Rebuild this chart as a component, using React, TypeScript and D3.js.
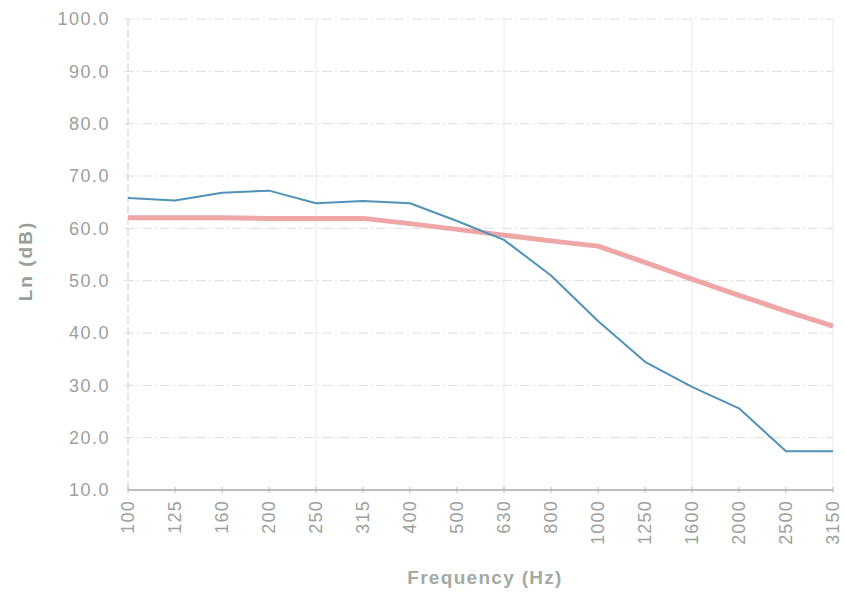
import React from "react";
import * as d3 from "d3";

const frequencies = ["100", "125", "160", "200", "250", "315", "400", "500", "630", "800", "1000", "1250", "1600", "2000", "2500", "3150"];
const measured = [65.8, 65.3, 66.8, 67.2, 64.8, 65.2, 64.8, 61.4, 57.8, 51.0, 42.3, 34.5, 29.7, 25.6, 17.4, 17.4];
const reference = [62.0, 62.0, 62.0, 61.9, 61.9, 61.9, 60.9, 59.8, 58.7, 57.6, 56.6, 53.5, 50.3, 47.2, 44.2, 41.3];
const yTicks = [10, 20, 30, 40, 50, 60, 70, 80, 90, 100];
const vGrid = ["250", "630", "1600", "3150"];

const width = 845;
const height = 593;
const margin = { top: 19, right: 12, bottom: 103, left: 128 };
const textColor = "#9ca19c";
const font = "'Liberation Sans', Arial, sans-serif";

export default function App() {
  const x = d3.scalePoint<string>()
    .domain(frequencies)
    .range([margin.left, width - margin.right]);
  const y = d3.scaleLinear()
    .domain([10, 100])
    .range([height - margin.bottom, margin.top]);

  const line = d3.line<number>()
    .x((_, i) => x(frequencies[i]) as number)
    .y(d => y(d));

  const x0 = margin.left;
  const x1 = width - margin.right;
  const yBottom = y(10);

  return (
    <svg width={width} height={height} style={{ position: "absolute", left: 0, top: 0, background: "#fff" }}>
      {/* horizontal grid */}
      {yTicks.filter(t => t > 10).map(t => (
        <line key={t} x1={x0 - 4} x2={x1} y1={y(t)} y2={y(t)}
          stroke="#dcdedc" strokeWidth={1} strokeDasharray="10 3 2 3" />
      ))}
      {/* vertical grid */}
      {vGrid.map(f => (
        <line key={f} x1={x(f)} x2={x(f)} y1={margin.top} y2={yBottom}
          stroke="#e8eae8" strokeWidth={1} />
      ))}
      {/* axes */}
      <line x1={x0} x2={x0} y1={margin.top} y2={yBottom} stroke="#c8cac8" strokeWidth={1} strokeDasharray="8 3" />
      <line x1={x0} x2={x1} y1={yBottom} y2={yBottom} stroke="#a4a8a4" strokeWidth={1.3} />
      {frequencies.map(f => (
        <line key={f} x1={x(f)} x2={x(f)} y1={yBottom - 3} y2={yBottom + 3} stroke="#b4b8b4" strokeWidth={1} />
      ))}
      {/* y tick labels */}
      {yTicks.map(t => (
        <text key={t} x={x0 - 18} y={y(t)} dy="0.36em" textAnchor="end"
          fontFamily={font} fontSize={18} letterSpacing={1.5} fill={textColor}>
          {t.toFixed(1)}
        </text>
      ))}
      {/* x tick labels */}
      {frequencies.map(f => (
        <text key={f} transform={`translate(${x(f)},${yBottom + 10}) rotate(-90)`}
          dy="0.36em" textAnchor="end"
          fontFamily={font} fontSize={18} letterSpacing={1.2} fill={textColor}>
          {f}
        </text>
      ))}
      {/* series */}
      <path d={line(reference) ?? ""} fill="none" stroke="#efa6a6" strokeWidth={5} strokeLinejoin="round" />
      <path d={line(measured) ?? ""} fill="none" stroke="#4f93b8" strokeWidth={2} strokeLinejoin="round" />
      {/* axis titles */}
      <text transform={`translate(32,261) rotate(-90)`} textAnchor="middle"
        fontFamily={font} fontSize={19} fontWeight="bold" letterSpacing={2} fill="#97a097">
        Ln (dB)
      </text>
      <text x={485} y={584} textAnchor="middle"
        fontFamily={font} fontSize={19} fontWeight="bold" letterSpacing={1.3} fill="#a3aaa3">
        Frequency (Hz)
      </text>
    </svg>
  );
}
